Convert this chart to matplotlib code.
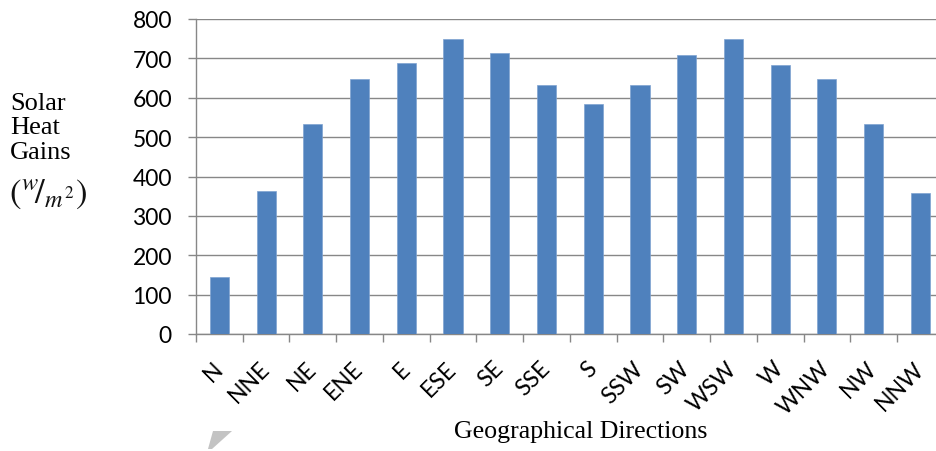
import matplotlib
matplotlib.use("Agg")
import matplotlib.pyplot as plt
from matplotlib.patches import Polygon
import numpy as np

directions = ["N", "NNE", "NE", "ENE", "E", "ESE", "SE", "SSE",
              "S", "SSW", "SW", "WSW", "W", "WNW", "NW", "NNW"]
heat_gains = [145, 362, 534, 648, 688, 750, 713, 633,
              583, 633, 708, 750, 683, 648, 534, 357]
y_ticks = [0, 100, 200, 300, 400, 500, 600, 700, 800]

plt.rcParams["mathtext.fontset"] = "stix"

W, H = 936, 452
fig = plt.figure(figsize=(W / 100, H / 100), dpi=100)
fig.patch.set_facecolor("white")

# plot area (right edge runs slightly past the figure edge)
left_px, right_px, top_px, bottom_px = 196, 943.7, 20, 335
ax = fig.add_axes([left_px / W, (H - bottom_px) / H,
                   (right_px - left_px) / W, (bottom_px - top_px) / H])
ax.set_facecolor("white")

grid_c = "#878787"
bar_c = "#4F81BD"
x = np.arange(len(directions))
ax.bar(x, heat_gains, width=0.41, color=bar_c, edgecolor="#7FA3D1",
       linewidth=0.5, zorder=3)

ax.set_xlim(-0.5, len(directions) - 0.5)
ax.set_ylim(0, 800)
ax.set_yticks(y_ticks)
ax.yaxis.grid(True, color=grid_c, linewidth=1.0, zorder=0)
ax.set_axisbelow(True)

for s in ["top", "right"]:
    ax.spines[s].set_visible(False)
for s in ["left", "bottom"]:
    ax.spines[s].set_color(grid_c)
    ax.spines[s].set_linewidth(1.0)

tick_font = "Lato"
ax.tick_params(axis="y", which="major", length=5.8, width=1.0, color=grid_c,
               pad=11.5, labelsize=16.5, labelcolor="black")
for lbl in ax.get_yticklabels():
    lbl.set_fontfamily(tick_font)

# category labels at bar centres, tick marks at category boundaries
ax.set_xticks(x)
ax.set_xticklabels(directions, rotation=45, ha="right", va="center",
                   rotation_mode="anchor", fontsize=16.5, fontfamily=tick_font)
ax.set_xticks(np.arange(-0.5, len(directions), 1.0), minor=True)
ax.tick_params(axis="x", which="major", length=0, pad=22)
ax.tick_params(axis="x", which="minor", length=5.6, width=1.0, color=grid_c)

# y-axis caption, one line at a time
serif = "Liberation Serif"
cap_lines = ["Solar", "Heat", "Gains"]
base_y = 110
for i, t in enumerate(cap_lines):
    fig.text(10 / W, (H - (base_y + i * 24.5)) / H, t, fontsize=19,
             fontfamily=serif, ha="left", va="baseline", color="black")
fig.text(9 / W, (H - 203) / H,
         r"$(^{w}\!/_{m^{2}})$", fontsize=25,
         ha="left", va="baseline", color="#111111")

fig.text(581 / W, (H - 438) / H, "Geographical Directions", fontsize=18.6,
         fontfamily=serif, ha="center", va="baseline", color="black")

# small grey mark near the lower left
tri = Polygon([[213 / W, (H - 432) / H], [232 / W, (H - 432) / H],
               [212 / W, (H - 450) / H], [208 / W, (H - 450) / H]],
              closed=True, transform=fig.transFigure, facecolor="#c3c3c3",
              edgecolor="none")
fig.patches.append(tri)

fig.savefig("out.png", dpi=100, facecolor="white")
